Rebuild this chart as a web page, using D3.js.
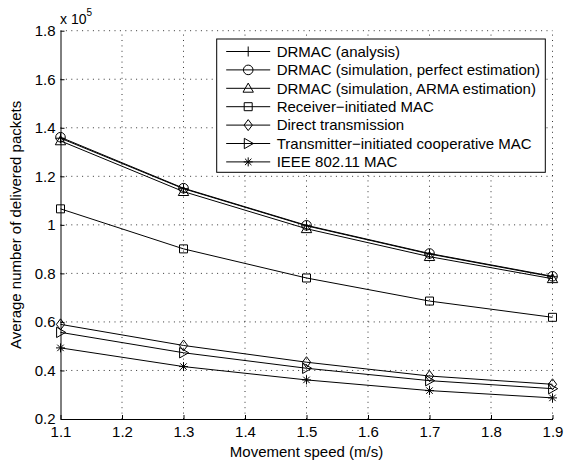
<!DOCTYPE html>
<html>
<head>
<meta charset="utf-8">
<script src="https://cdn.jsdelivr.net/npm/d3@7/dist/d3.min.js"></script>
<style>
  html, body { margin: 0; padding: 0; background: #fff; }
  svg text { font-family: "Liberation Sans", Arial, Helvetica, sans-serif; fill: #000; }
</style>
</head>
<body>
<svg id="chart" width="569" height="461"></svg>
<script>
// Movement speed (m/s)
const speeds = [1.1, 1.3, 1.5, 1.7, 1.9];

// Average number of delivered packets (x 10^5)
const drmacAnalysis  = [1.357, 1.149, 0.996, 0.880, 0.786];
const drmacPerfect   = [1.361, 1.151, 0.998, 0.882, 0.788];
const drmacArma      = [1.346, 1.137, 0.984, 0.869, 0.778];
const receiverMac    = [1.066, 0.901, 0.781, 0.686, 0.619];
const directTx       = [0.590, 0.503, 0.434, 0.377, 0.343];
const transmitterMac = [0.557, 0.473, 0.409, 0.358, 0.325];
const ieee80211      = [0.493, 0.416, 0.361, 0.317, 0.287];

const seriesNames = [
  "DRMAC (analysis)",
  "DRMAC (simulation, perfect estimation)",
  "DRMAC (simulation, ARMA estimation)",
  "Receiver\u2212initiated MAC",
  "Direct transmission",
  "Transmitter\u2212initiated cooperative MAC",
  "IEEE 802.11 MAC"
];
const seriesValues = [drmacAnalysis, drmacPerfect, drmacArma, receiverMac, directTx, transmitterMac, ieee80211];
const seriesMarkers = ["plus", "circle", "triangleUp", "square", "diamond", "triangleRight", "asterisk"];

const xTicks = [1.1, 1.2, 1.3, 1.4, 1.5, 1.6, 1.7, 1.8, 1.9];
const yTicks = [0.2, 0.4, 0.6, 0.8, 1, 1.2, 1.4, 1.6, 1.8];

const svg = d3.select("#chart");
const plotLeft = 60.5, plotRight = 552.5, plotTop = 30.7, plotBottom = 419;
const fontSize = 15;

const x = d3.scaleLinear().domain([1.1, 1.9]).range([plotLeft, plotRight]);
const y = d3.scaleLinear().domain([0.2, 1.8]).range([plotBottom, plotTop]);

// dotted grid
const grid = svg.append("g").attr("stroke", "#000").attr("stroke-width", 0.8)
  .attr("stroke-dasharray", "1,4.4").attr("fill", "none");
xTicks.slice(1).forEach(t => grid.append("line")
  .attr("x1", x(t)).attr("x2", x(t)).attr("y1", plotBottom).attr("y2", plotTop));
yTicks.slice(1).forEach(t => grid.append("line")
  .attr("x1", plotLeft).attr("x2", plotRight).attr("y1", y(t)).attr("y2", y(t)));

// axes with inward ticks
const fmt = d => (d === 1 ? "1" : d3.format(".1f")(d));
const xAxis = svg.append("g").attr("transform", `translate(0,${plotBottom})`)
  .call(d3.axisBottom(x).tickValues(xTicks).tickFormat(fmt).tickSizeInner(-4).tickSizeOuter(0).tickPadding(7));
const yAxis = svg.append("g").attr("transform", `translate(${plotLeft},0)`)
  .call(d3.axisLeft(y).tickValues(yTicks).tickFormat(fmt).tickSizeInner(-4).tickSizeOuter(0).tickPadding(5));
[xAxis, yAxis].forEach(a => {
  a.select(".domain").attr("stroke", "#000").attr("stroke-width", 1);
  a.selectAll(".tick line").attr("stroke", "#000");
  a.selectAll(".tick text").attr("font-size", fontSize).attr("font-family", "Liberation Sans, Arial, sans-serif").attr("fill", "#000");
});

// exponent label
const expo = svg.append("text").attr("x", plotLeft - 0.5).attr("y", 24).attr("font-size", 14);
expo.append("tspan").text("x 10");
expo.append("tspan").attr("dy", -8).attr("font-size", 10).text("5");

// axis titles
svg.append("text").attr("x", (plotLeft + plotRight) / 2).attr("y", 457).attr("text-anchor", "middle")
  .attr("font-size", fontSize).text("Movement speed (m/s)");
svg.append("text").attr("transform", `translate(21,${(plotTop + plotBottom) / 2}) rotate(-90)`)
  .attr("text-anchor", "middle").attr("font-size", fontSize).text("Average number of delivered packets");

// marker path builder
function markerPath(kind, cx, cy) {
  const p = d3.path();
  if (kind === "plus") {
    const r = 5;
    p.moveTo(cx - r, cy); p.lineTo(cx + r, cy); p.moveTo(cx, cy - r); p.lineTo(cx, cy + r);
  } else if (kind === "circle") {
    p.moveTo(cx + 4.8, cy); p.arc(cx, cy, 4.8, 0, 2 * Math.PI);
  } else if (kind === "triangleUp") {
    const r = 5.2;
    p.moveTo(cx, cy - r); p.lineTo(cx + r, cy + r * 0.75); p.lineTo(cx - r, cy + r * 0.75); p.closePath();
  } else if (kind === "square") {
    const r = 4;
    p.rect(cx - r, cy - r, 2 * r, 2 * r);
  } else if (kind === "diamond") {
    const r = 5.5;
    p.moveTo(cx, cy - r); p.lineTo(cx + r * 0.75, cy); p.lineTo(cx, cy + r); p.lineTo(cx - r * 0.75, cy); p.closePath();
  } else if (kind === "triangleRight") {
    const r = 5.2;
    p.moveTo(cx + r, cy); p.lineTo(cx - r * 0.75, cy + r); p.lineTo(cx - r * 0.75, cy - r); p.closePath();
  } else if (kind === "asterisk") {
    const r = 4.5, d = r * 0.72;
    p.moveTo(cx - r, cy); p.lineTo(cx + r, cy);
    p.moveTo(cx - d, cy - d); p.lineTo(cx + d, cy + d);
    p.moveTo(cx - d, cy + d); p.lineTo(cx + d, cy - d);
    p.moveTo(cx, cy - r); p.lineTo(cx, cy + r);
  }
  return p.toString();
}

// series lines and markers
const line = d3.line().x((d, i) => x(speeds[i])).y(d => y(d));
const plot = svg.append("g");
seriesValues.forEach((vals, k) => {
  plot.append("path").attr("d", line(vals)).attr("fill", "none")
    .attr("stroke", "#000").attr("stroke-width", 1);
  plot.selectAll(null).data(vals).enter().append("path")
    .attr("d", (d, i) => markerPath(seriesMarkers[k], x(speeds[i]), y(d)))
    .attr("fill", "none").attr("stroke", "#000").attr("stroke-width", 1);
});

// legend
const lg = svg.append("g");
const lx = 216.7, ly = 39, lw = 328.6, lh = 133.3, rowH = 18.4;
lg.append("rect").attr("x", lx).attr("y", ly).attr("width", lw).attr("height", lh)
  .attr("fill", "#fff").attr("stroke", "#000").attr("stroke-width", 1);
seriesNames.forEach((name, k) => {
  const ry = ly + 12.5 + k * rowH;
  lg.append("line").attr("x1", lx + 9.5).attr("x2", lx + 53.5).attr("y1", ry).attr("y2", ry)
    .attr("stroke", "#000").attr("stroke-width", 1);
  lg.append("path").attr("d", markerPath(seriesMarkers[k], lx + 31.5, ry))
    .attr("fill", "none").attr("stroke", "#000").attr("stroke-width", 1);
  lg.append("text").attr("x", lx + 60).attr("y", ry + 5.3).attr("font-size", fontSize).text(name);
});
</script>
</body>
</html>
